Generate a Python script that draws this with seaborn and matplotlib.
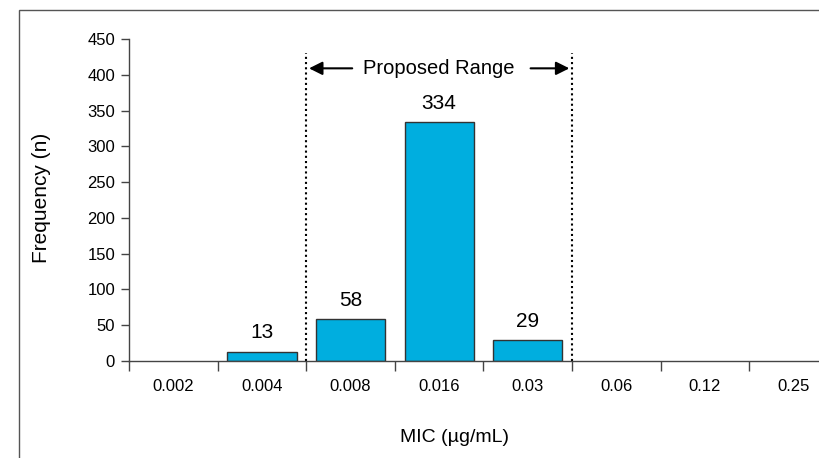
import matplotlib
matplotlib.use("Agg")
import matplotlib.pyplot as plt
import seaborn as sns
import pandas as pd
from matplotlib.patches import Rectangle

# data
mic_labels = ["0.002", "0.004", "0.008", "0.016", "0.03", "0.06", "0.12", "0.25"]
frequency = [0, 13, 58, 334, 29, 0, 0, 0]
range_start, range_end = "0.008", "0.03"

df = pd.DataFrame({"MIC": mic_labels, "n": frequency})

sns.set_style("white")
plt.rcParams["font.family"] = ["Liberation Sans", "DejaVu Sans"]
plt.rcParams["text.color"] = "black"
plt.rcParams["xtick.color"] = "black"
plt.rcParams["ytick.color"] = "black"

fig = plt.figure(figsize=(8.2, 4.58), dpi=100)
W, H = 820, 458
# axes spans 8 categories of ~88.6 px; the right part is cut off by the figure edge
ax = fig.add_axes([129 / W, (H - 361) / H, 709 / W, 322 / H])

sns.barplot(data=df, x="MIC", y="n", color="#00AEDF", width=0.78,
            edgecolor="#333333", linewidth=1, saturation=1, ax=ax)
# empty classes get no outline
for p in ax.patches:
    if p.get_height() == 0:
        p.set_linewidth(0)

ax.set_xlim(-0.5, len(mic_labels) - 0.5)
ax.set_ylim(0, 450)
ax.set_yticks(range(0, 451, 50))
ax.tick_params(axis="y", direction="out", length=6, width=1, color="#444444",
               labelcolor="black", labelsize=12, pad=4, left=True)
# ticks sit between categories, labels at the centres
ax.set_xticks([i - 0.5 for i in range(len(mic_labels))], minor=False)
ax.set_xticklabels([])
ax.set_xticks(range(len(mic_labels)), minor=True)
ax.set_xticklabels(mic_labels, minor=True)
ax.tick_params(axis="x", which="major", direction="out", length=7, width=1,
               color="#444444", bottom=True)
ax.tick_params(axis="x", which="minor", length=0, labelsize=12, labelcolor="black", pad=13)

for side in ["top", "right"]:
    ax.spines[side].set_visible(False)
for side in ["left", "bottom"]:
    ax.spines[side].set_color("#444444")
    ax.spines[side].set_linewidth(1)

ax.set_xlabel("")
ax.set_ylabel("")

# value labels
for i, v in enumerate(frequency):
    if v > 0:
        ax.text(i, v + 13, str(v), ha="center", va="bottom", fontsize=15)

# proposed range markers
x0 = mic_labels.index(range_start) - 0.5
x1 = mic_labels.index(range_end) + 0.5
for x in (x0, x1):
    ax.plot([x, x], [0, 430], linestyle=(0, (1, 1.5)), color="black", lw=1.5)
ax.text((x0 + x1) / 2, 409, "Proposed Range", ha="center", va="center", fontsize=14.5)
ax.annotate("", xy=(x0, 409), xytext=(x0 + 0.55, 409),
            arrowprops=dict(arrowstyle="-|>", color="black", lw=1.5, mutation_scale=20))
ax.annotate("", xy=(x1, 409), xytext=(x1 - 0.5, 409),
            arrowprops=dict(arrowstyle="-|>", color="black", lw=1.5, mutation_scale=20))

fig.text(42 / W, 1 - 198 / H, "Frequency (n)", rotation=90, ha="center", va="center", fontsize=15)
fig.text(455 / W, 1 - 438 / H, "MIC (µg/mL)", ha="center", va="center", fontsize=14)

# outer frame
fig.patches.append(Rectangle((19 / W, -0.1), 1.2, 1 - 10 / H + 0.1, transform=fig.transFigure,
                             fill=False, edgecolor="#555555", lw=1))

fig.savefig("out.png", dpi=100)
